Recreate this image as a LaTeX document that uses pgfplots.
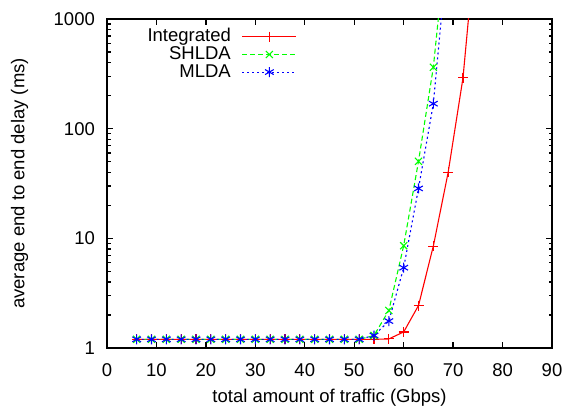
\documentclass[border=0pt]{standalone}
\usepackage{fontspec}
\setmainfont{Liberation Sans}
\usepackage{pgfplots}
\pgfplotsset{compat=1.18}
\begin{document}
\fontsize{18.5}{21}\selectfont
\begin{tikzpicture}
\begin{axis}[
  name=ax,
  scale only axis, width=445pt, height=329pt,
  xmin=0, xmax=90, ymode=log, ymin=1, ymax=1000,
  xtick={0,10,...,90},
  ytick={1,10,100,1000}, yticklabels={1,10,100,1000},
  /pgf/number format/assume math mode=true,
  tick align=inside,
  axis line style={line width=1.6pt},
  major tick length=6pt, minor tick length=3.5pt,
  every tick/.style={black, line width=1.4pt},
  xticklabel style={yshift=-8.8pt},
  yticklabel style={xshift=-5.8pt},
  xlabel={total amount of traffic (Gbps)},
  ylabel={average end to end delay (ms)},
  xlabel style={at={(axis description cs:0.5,-0.150)}, anchor=center},
  ylabel style={at={(axis description cs:-0.1964,0.5)}, anchor=center},
  legend style={draw=none, fill=none, at={(axis description cs:0.434,0.984)}, anchor=north east,
    font=\fontsize{18.5}{21}\selectfont, column sep=9pt, row sep=-2pt},
  legend cell align=right, legend plot pos=right,
  legend image code/.code={\draw[#1,mark repeat=2,mark phase=2] plot coordinates {(0pt,0pt)(27pt,0pt)(54pt,0pt)};},
]
\addplot[color=red, line width=1.1pt, mark=+, mark size=5pt, mark options={solid}] coordinates {
(6,1.2)(9,1.2)(12,1.2)(15,1.2)(18,1.2)(21,1.2)(24,1.2)(27,1.2)(30,1.2)(33,1.2)(36,1.2)(39,1.2)(42,1.2)(45,1.2)(48,1.2)(51,1.2)(54,1.2)
(57,1.21)(60,1.4)(63,2.44)(66,8.5)(69,40)(72,291)(75,8430)};
\addlegendentry{Integrated}
\addplot[color=green, line width=1.1pt, dash pattern=on 5pt off 3pt, mark=x, mark size=5pt, mark options={solid}] coordinates {
(6,1.2)(9,1.2)(12,1.2)(15,1.2)(18,1.2)(21,1.2)(24,1.2)(27,1.2)(30,1.2)(33,1.2)(36,1.2)(39,1.2)(42,1.2)(45,1.2)(48,1.2)(51,1.2)(54,1.3)
(57,2.2)(60,8.57)(63,50.4)(66,363)(69,7600)};
\addlegendentry{SHLDA}
\addplot[color=blue, line width=1.1pt, dash pattern=on 2pt off 3pt, mark=asterisk, mark size=5pt, mark options={solid}] coordinates {
(6,1.2)(9,1.2)(12,1.2)(15,1.2)(18,1.2)(21,1.2)(24,1.2)(27,1.2)(30,1.2)(33,1.2)(36,1.2)(39,1.2)(42,1.2)(45,1.2)(48,1.2)(51,1.2)(54,1.3)
(57,1.76)(60,5.4)(63,28.5)(66,169)(69,4730)};
\addlegendentry{MLDA}
\end{axis}
\pgfresetboundingbox
\path ([shift={(-107pt,-59pt)}]ax.south west) rectangle ([shift={(14pt,19pt)}]ax.north east);
\end{tikzpicture}
\end{document}
